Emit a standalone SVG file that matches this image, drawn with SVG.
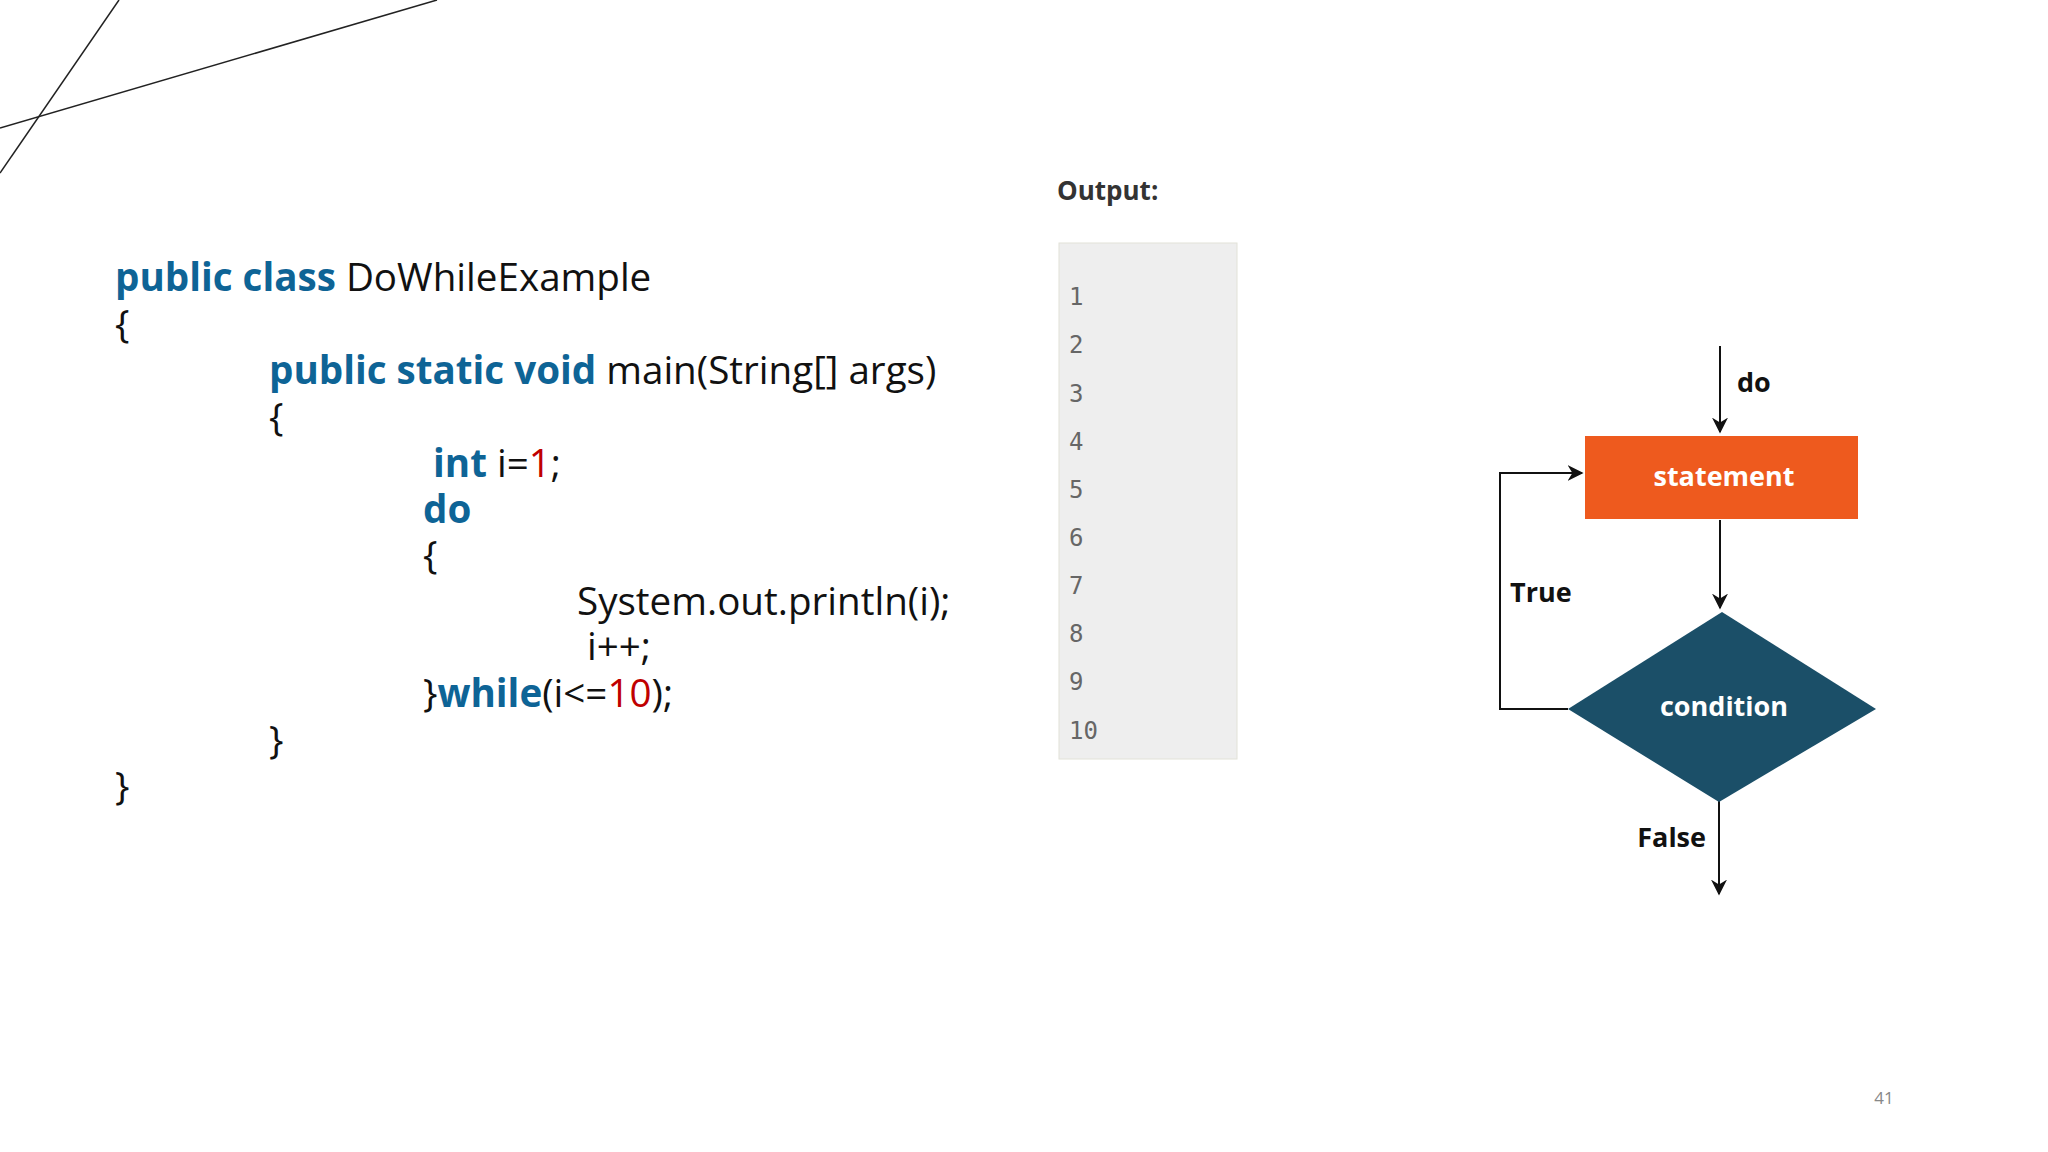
<svg xmlns="http://www.w3.org/2000/svg" width="2048" height="1152" viewBox="0 0 2048 1152">
<style>
.code{font-family:"Open Sans","Noto Sans",sans-serif;font-size:38.6px;fill:#111}
.kw{fill:#0e6496;font-weight:bold}
.num{fill:#c00000}
.out{font-family:"DejaVu Sans Mono",monospace;font-size:24px;fill:#666}
.lbl{font-family:"Open Sans","Noto Sans",sans-serif;font-weight:bold;font-size:27px;fill:#111}
.wl{font-family:"Open Sans","Noto Sans",sans-serif;font-weight:bold;font-size:27px;fill:#fff;text-anchor:middle}
.ln{stroke:#111;stroke-width:2;fill:none}
</style>
<defs>
<marker id="a" viewBox="0 0 10 10" refX="9" refY="5" markerWidth="16" markerHeight="16" markerUnits="userSpaceOnUse" orient="auto"><path d="M0,0L10,5L0,10L3,5z" fill="#111"/></marker></defs>
<rect width="2048" height="1152" fill="#fff"/>
<line x1="119" y1="0" x2="0" y2="173" stroke="#222" stroke-width="1.5"/>
<line x1="437" y1="0" x2="0" y2="128" stroke="#222" stroke-width="1.5"/>
<g id="code" class="code">
<text x="115" y="291"><tspan class="kw">public class</tspan> DoWhileExample</text>
<text x="115" y="338">{</text>
<text x="269" y="384"><tspan class="kw">public static void</tspan> main(String[] args)</text>
<text x="269" y="431">{</text>
<text x="433" y="477"><tspan class="kw">int</tspan> i=<tspan class="num">1</tspan>;</text>
<text x="423" y="523" class="kw">do</text>
<text x="423" y="569">{</text>
<text x="577" y="615">System.out.println(i);</text>
<text x="587" y="660">i++;</text>
<text x="423" y="707">}<tspan class="kw">while</tspan>(i&lt;=<tspan class="num">10</tspan>);</text>
<text x="269" y="754">}</text>
<text x="115" y="800">}</text>
</g>
<g id="output">
<text x="1057" y="200" font-family="Open Sans,Noto Sans,sans-serif" font-weight="bold" font-size="26" fill="#333">Output:</text>
<rect x="1059" y="243" width="178" height="516" fill="#eeeeee" stroke="#e2e2d8" stroke-width="1"/>
<g class="out">
<text x="1069" y="305">1</text><text x="1069" y="353">2</text><text x="1069" y="402">3</text><text x="1069" y="450">4</text><text x="1069" y="498">5</text><text x="1069" y="546">6</text><text x="1069" y="594">7</text><text x="1069" y="642">8</text><text x="1069" y="690">9</text><text x="1069" y="739">10</text>
</g>
</g>
<g id="connectors" class="ln">
<line x1="1720" y1="346" x2="1720" y2="432" marker-end="url(#a)"/>
<line x1="1720" y1="520" x2="1720" y2="608" marker-end="url(#a)"/>
<polyline points="1568,709 1500,709 1500,473 1582,473" marker-end="url(#a)"/>
<line x1="1719" y1="800" x2="1719" y2="894" marker-end="url(#a)"/>
</g>
<g id="statement">
<rect x="1585" y="436" width="273" height="83" fill="#ee5a1e"/>
<text x="1724" y="486" class="wl">statement</text>
</g>
<g id="condition">
<polygon points="1722,612 1876,709 1719,802 1568,709" fill="#1b4f68"/>
<text x="1724" y="716" class="wl">condition</text>
</g>
<g id="labels">
<text x="1737" y="392" class="lbl">do</text>
<text x="1510" y="602" class="lbl">True</text>
<text x="1706" y="847" class="lbl" text-anchor="end">False</text>
</g>
<text x="1884" y="1104" font-family="Open Sans,sans-serif" font-size="17" fill="#888" text-anchor="middle">41</text>
</svg>
